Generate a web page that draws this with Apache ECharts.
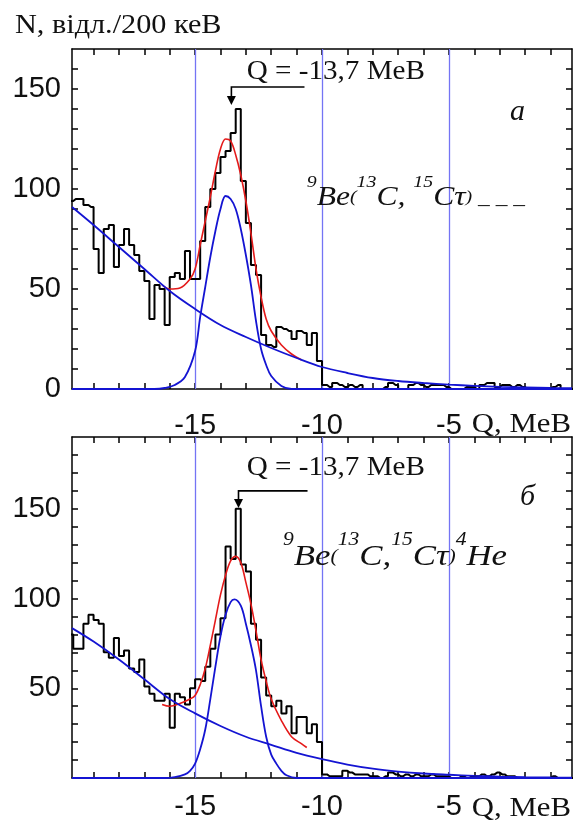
<!DOCTYPE html>
<html><head><meta charset="utf-8">
<script src="https://cdn.jsdelivr.net/npm/echarts@6/dist/echarts.min.js"></script>
<style>html,body{margin:0;padding:0;background:#fff}#c{width:574px;height:823px}</style>
</head><body><div id="c"></div>
<script>
// ---------------- data ----------------
const BIN_START = -19.9;   // centre of first 200 keV bin (MeV)
const BIN_WIDTH = 0.2;
// panel а : counts per 200 keV bin
const countsA = [
 94,95,95,92,91,70,58,80,82,61,
 72,80,72,67,59,54,35,52,50,32,
 56,58,55,69,55,55,74,91,100,108,
 116,119,128,140,104,83,62,57,27,22,
 21,31,30,29,25,29,28,22,28,14,
 2,1,3,2,1,2,1,2,0,0,
 0,0,1,3,2,0,0,2,3,2,
 1,2,2,2,1,0,0,0,1,1,
 0,2,3,3,1,2,2,1,2,1,
 0,0,0,0,0,1,2,0,0,0];
// panel б
const countsB = [
 80,72,72,86,91,88,86,70,67,78,
 68,71,61,59,66,51,47,43,43,47,
 28,47,45,41,50,55,54,62,72,80,
 89,129,122,150,119,115,86,77,56,46,
 40,43,36,40,25,34,34,25,30,20,
 2,1,1,1,4,3,2,2,2,1,
 1,0,1,3,2,1,2,1,2,1,
 1,2,1,1,1,0,0,1,0,1,
 1,2,1,2,3,2,1,1,0,0,
 0,0,0,0,0,1,0,0,0,0];
// background (blue) curves
const bgQ = [-19.85,-19,-18,-17,-16,-15,-14,-13,-12,-11,-10,-9,-8,-7,-6,-5,-4,-3,-2,-1,-0.15];
const bgA = [91,82,71,60,49,40,32,26,20.5,15.5,11,8,5.5,4,3,2.2,1.6,1.1,0.8,0.5,0.4];
const bgB = [83.5,76,66,55,44,36,29,23,18.5,14,10.5,7.5,5.2,3.6,2.5,1.8,1.2,0.8,0.5,0.3,0.2];
// peak (blue gaussian) curves
const peakQA = [-19.85,-16.6,-16.2,-15.8,-15.4,-15.0,-14.8,-14.6,-14.4,-14.2,-14.0,-13.8,-13.6,-13.4,-13.2,-13.0,-12.8,-12.6,-12.4,-12.2,-12.0,-11.6,-11.2,-0.15];
const peakA  = [0,0,0.5,2,6,19,36,51,66,79,90,96.5,95,90,80,67,52,34,20,12,6.5,1.5,0,0];
const peakQB = [-19.85,-16.2,-15.8,-15.4,-15.2,-15.0,-14.8,-14.6,-14.4,-14.2,-14.0,-13.8,-13.6,-13.45,-13.2,-13.0,-12.8,-12.6,-12.4,-12.2,-12.0,-11.8,-11.6,-11.4,-11.0,-0.15];
const peakB  = [0,0,0.5,2,4,8,16,27,44,62,79,91,98,99.5,96,86,74,60,40,23,13,8,4,1.5,0,0];
// total fit (red) curves
const sumQA = [-16.3,-16.0,-15.6,-15.2,-15.0,-14.8,-14.6,-14.4,-14.2,-14.0,-13.8,-13.6,-13.4,-13.2,-13.0,-12.8,-12.6,-12.4,-12.2,-12.0,-11.6,-11.2,-10.8];
const sumA  = [52,50,50.5,55,60,72,84,96,109,120,125,124,117,107,94,78,60,46,35,29,22,17.5,14.5];
const sumQB = [-16.3,-16.0,-15.6,-15.2,-15.0,-14.8,-14.6,-14.4,-14.2,-14.0,-13.8,-13.6,-13.4,-13.2,-13.0,-12.8,-12.6,-12.4,-12.2,-12.0,-11.6,-11.2,-10.8,-10.6];
const sumB  = [41,40,41.5,44,46,52,61,74,88,102,113,121,123.5,120,109,97,82,66,54,44,32,23,19,17];
// axes
const xTickValues = [-19,-18,-17,-16,-15,-14,-13,-12,-11,-10,-9,-8,-7,-6,-5,-4,-3,-2,-1];
const xLabelValues = [-15,-10,-5];
const vLines = [-15,-10,-5];
const yTicksA = [10,20,30,40,50,60,70,80,90,100,110,120,130,140,150,160];
const yLabelsA = [0,50,100,150];
const yTicksB = [10,20,30,40,50,60,70,80,90,100,110,120,130,140,150,160,170,180];
const yLabelsB = [50,100,150];
const Q_LABEL = 'Q = -13,7 MeB';
// annotation arrows (data coordinates): arrow x, tip value, bar value, bar end x
const arrowA = [-13.57, 142, 151, -10.69];
const arrowB = [-13.29, 150.5, 160, -10.57];

// ---------------- chart ----------------
const chart = echarts.init(document.getElementById('c'), null, {renderer:'canvas'});
const BLACK = '#000';
const BLUE = '#1414d2';
const RED = '#e41a1a';
const VL = '#7474f4';
const SANS = 'Liberation Sans';
const SERIF = 'Liberation Serif';

function hist(counts){ return counts.map((v,i)=>[BIN_START + i*BIN_WIDTH, v]); }
function zip(q, v){ return q.map((x,i)=>[x, v[i]]); }

function xAxes(g, margin){
  const line = {show:true, onZero:false, lineStyle:{color:BLACK, width:1.5}};
  return [
    {gridIndex:g, type:'value', min:-19.85, max:-0.15, position:'bottom',
     axisLine:line,
     axisTick:{show:true, inside:true, length:6, customValues:xTickValues, lineStyle:{color:BLACK, width:1.5}},
     axisLabel:{show:true, customValues:xLabelValues, margin:margin, fontSize:29, fontFamily:SANS, color:'#111'},
     splitLine:{show:false}},
    {gridIndex:g, type:'value', min:-19.85, max:-0.15, position:'top',
     axisLine:line,
     axisTick:{show:true, inside:true, length:6, customValues:xTickValues, lineStyle:{color:BLACK, width:1.5}},
     axisLabel:{show:false}, splitLine:{show:false}}
  ];
}
function yAxes(g, max, ticks, labels){
  const line = {show:true, onZero:false, lineStyle:{color:BLACK, width:1.5}};
  return [
    {gridIndex:g, type:'value', min:0, max:max, position:'left',
     axisLine:line,
     axisTick:{show:true, inside:true, length:6, customValues:ticks, lineStyle:{color:BLACK, width:1.5}},
     axisLabel:{show:true, customValues:labels, margin:11, fontSize:29, fontFamily:SANS, color:'#111'},
     splitLine:{show:false}},
    {gridIndex:g, type:'value', min:0, max:max, position:'right',
     axisLine:line,
     axisTick:{show:true, inside:true, length:6, customValues:ticks, lineStyle:{color:BLACK, width:1.5}},
     axisLabel:{show:false}, splitLine:{show:false}}
  ];
}
function panelSeries(xi, yi, counts, bg, pq, pk, sq, sm){
  return [
    {type:'line', xAxisIndex:xi, yAxisIndex:yi, data:hist(counts), step:'middle', showSymbol:false,
     lineStyle:{color:BLACK, width:2}, z:3, silent:true,
     markLine:{silent:true, symbol:['none','none'], label:{show:false},
       lineStyle:{color:VL, width:1.3, type:'solid', opacity:1},
       emphasis:{disabled:true},
       data:vLines.map(v=>({xAxis:v})), z:1}},
    {type:'line', xAxisIndex:xi, yAxisIndex:yi, data:zip(sq, sm), smooth:0.35, showSymbol:false,
     lineStyle:{color:RED, width:1.6}, z:4, silent:true},
    {type:'line', xAxisIndex:xi, yAxisIndex:yi, data:zip(bgQ, bg), smooth:0.35, showSymbol:false,
     lineStyle:{color:BLUE, width:1.8}, z:5, silent:true},
    {type:'line', xAxisIndex:xi, yAxisIndex:yi, data:zip(pq, pk), smooth:0.35, showSymbol:false,
     lineStyle:{color:BLUE, width:1.8}, z:5, silent:true}
  ];
}

chart.setOption({
  animation:false,
  backgroundColor:'#fff',
  grid:[
    {left:72, top:49, width:500, height:340},
    {left:72, top:437, width:500, height:341}
  ],
  xAxis:[...xAxes(0, 22), ...xAxes(1, 14)],
  yAxis:[...yAxes(0, 170, yTicksA, yLabelsA), ...yAxes(1, 190, yTicksB, yLabelsB)],
  series:[
    ...panelSeries(0, 0, countsA, bgA, peakQA, peakA, sumQA, sumA),
    ...panelSeries(2, 2, countsB, bgB, peakQB, peakB, sumQB, sumB)
  ]
});

function mid(baseline, size){ return baseline - 0.3375*size; }
function arrow(xi, yi, a){
  const tip = chart.convertToPixel({xAxisIndex:xi, yAxisIndex:yi}, [a[0], a[1]]);
  const bar = chart.convertToPixel({xAxisIndex:xi, yAxisIndex:yi}, [a[0], a[2]]);
  const end = chart.convertToPixel({xAxisIndex:xi, yAxisIndex:yi}, [a[3], a[2]]);
  return [
    {type:'polyline', silent:true, z:20, shape:{points:[[end[0],end[1]],[bar[0],bar[1]],[tip[0],tip[1]-6]]},
     style:{stroke:BLACK, lineWidth:1.6, fill:null}},
    {type:'polygon', silent:true, z:20, shape:{points:[[tip[0]-4.5,tip[1]-9],[tip[0]+4.5,tip[1]-9],[tip[0],tip[1]]]},
     style:{fill:BLACK}}
  ];
}
function label(x, baseline, size, text, opts){
  opts = opts || {};
  return {type:'text', silent:true, x:x, y:mid(baseline,size), scaleX:opts.sx || 1,
    style:{x:0, y:0, text:text, font:(opts.italic?'italic ':'') + size + 'px "Liberation Serif"',
      fill:'#111', align:opts.align || 'left', verticalAlign:'middle'}};
}
const rich = {
  s:{fontFamily:SERIF, fontStyle:'italic', fontSize:17, lineHeight:16, verticalAlign:'top', fill:'#111'},
  m:{fontFamily:SERIF, fontStyle:'italic', fontSize:27, lineHeight:46, fill:'#111'},
  p:{fontFamily:SERIF, fontStyle:'italic', fontSize:17, lineHeight:46, fill:'#111'},
  d:{fontFamily:SERIF, fontSize:20, lineHeight:46, fill:'#111'}
};
const richB = {
  s:{fontFamily:SERIF, fontStyle:'italic', fontSize:18, lineHeight:16, verticalAlign:'top', fill:'#111'},
  m:{fontFamily:SERIF, fontStyle:'italic', fontSize:29, lineHeight:52, fill:'#111'},
  p:{fontFamily:SERIF, fontStyle:'italic', fontSize:18, lineHeight:52, fill:'#111'}
};
chart.setOption({
  graphic:[
    label(15, 35, 28, 'N, відл./200 кеВ', {sx:1.08}),
    label(571, 434, 27, 'Q, MeB', {sx:1.14, align:'right'}),
    label(571, 818, 27, 'Q, MeB', {sx:1.14, align:'right'}),
    label(246.7, 81, 28, Q_LABEL, {sx:1.04}),
    label(246.7, 476.7, 28, Q_LABEL, {sx:1.04}),
    label(510, 122, 30, 'а', {italic:true}),
    label(520, 507, 30, 'б', {italic:true}),
    {type:'text', silent:true, z:10, x:306.7, y:174.5, scaleX:1.17, style:{x:0, y:0, verticalAlign:'top',
      text:'{s|9}{m|Be}{p|(}{s|13}{m|C, }{s|15}{m|Cτ}{p|)}{d| _ _ _}', rich:rich}},
    {type:'text', silent:true, z:10, x:283, y:531, scaleX:1.2, style:{x:0, y:0, verticalAlign:'top',
      text:'{s|9}{m|Be}{p|(}{s|13}{m|C,}{s|15}{m|Cτ}{p|)}{s|4}{m|He}', rich:richB}},
    ...arrow(0, 0, arrowA),
    ...arrow(2, 2, arrowB)
  ]
});
</script>
</body></html>
